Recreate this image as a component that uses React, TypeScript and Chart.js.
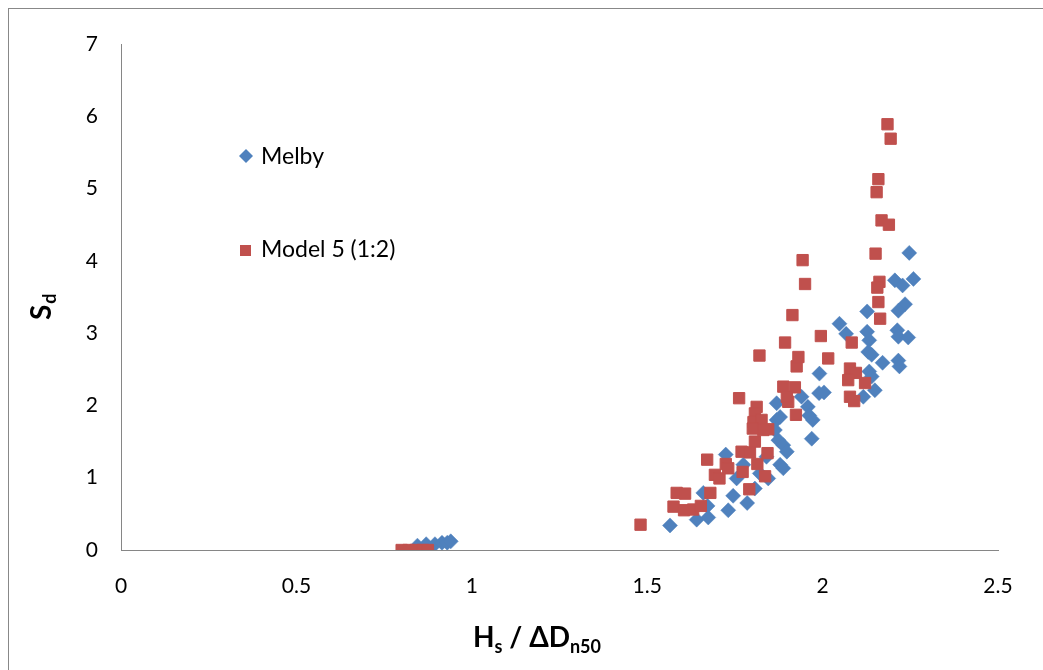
import React, { useEffect, useRef } from "react";
import { Chart, registerables } from "chart.js";

Chart.register(...registerables);

const melbyX = [
  0.845, 0.87, 0.895, 0.915, 0.93, 0.94,
  1.565, 1.641, 1.674, 1.66, 1.672, 1.731, 1.745, 1.785, 1.724, 1.755,
  1.774, 1.807, 1.821, 1.845, 1.84, 1.869, 1.879, 1.864, 1.874, 1.888,
  1.898, 1.879, 1.888, 1.869, 1.94, 1.958, 1.962, 1.972, 1.969, 1.991,
  1.99, 2.004, 2.048, 2.067, 2.127, 2.127, 2.133, 2.13, 2.14, 2.133,
  2.14, 2.149, 2.116, 2.171, 2.213, 2.216, 2.244, 2.216, 2.219, 2.235,
  2.216, 2.206, 2.228, 2.259, 2.247,
];
const melbyY = [
  0.06, 0.08, 0.08, 0.1, 0.1, 0.12,
  0.34, 0.42, 0.45, 0.79, 0.61, 0.55, 0.75, 0.65, 1.32, 0.99,
  1.18, 0.85, 1.06, 0.99, 1.29, 1.8, 1.84, 1.66, 1.52, 1.45,
  1.36, 1.18, 1.13, 2.03, 2.12, 1.98, 1.86, 1.8, 1.54, 2.44,
  2.17, 2.18, 3.13, 2.99, 3.3, 3.02, 2.9, 2.74, 2.7, 2.47,
  2.4, 2.21, 2.12, 2.59, 3.04, 2.95, 2.94, 2.62, 2.54, 3.4,
  3.31, 3.73, 3.66, 3.75, 4.11,
];

const modelX = [
  0.8, 0.82, 0.84, 0.86, 0.875,
  1.481, 1.584, 1.608, 1.575, 1.605, 1.631, 1.653, 1.68, 1.671, 1.693,
  1.706, 1.724, 1.731, 1.769, 1.793, 1.772, 1.814, 1.843, 1.836, 1.791,
  1.762, 1.812, 1.807, 1.803, 1.826, 1.801, 1.831, 1.845, 1.807, 1.888,
  1.921, 1.902, 1.898, 1.924, 1.926, 1.931, 1.82, 1.893, 1.914, 1.943,
  1.95, 1.995, 2.016, 2.083, 2.078, 2.095, 2.073, 2.121, 2.078, 2.09,
  2.151, 2.162, 2.156, 2.159, 2.164, 2.154, 2.159, 2.168, 2.189, 2.185,
  2.194,
];
const modelY = [
  0, 0, 0, 0, 0,
  0.35, 0.79, 0.78, 0.6, 0.55, 0.56, 0.61, 0.79, 1.25, 1.04,
  0.99, 1.19, 1.13, 1.36, 1.35, 1.08, 1.19, 1.34, 1.02, 0.84,
  2.1, 1.98, 1.89, 1.77, 1.8, 1.68, 1.66, 1.67, 1.5, 2.26,
  2.25, 2.05, 2.12, 1.87, 2.54, 2.67, 2.69, 2.87, 3.25, 4.01,
  3.68, 2.96, 2.65, 2.87, 2.51, 2.45, 2.35, 2.31, 2.12, 2.06,
  4.1, 3.71, 3.63, 3.43, 3.2, 4.95, 5.13, 4.56, 4.5, 5.89,
  5.69,
];

const seriesNames = ["Melby", "Model 5 (1:2)"];
const xTicks = [0, 0.5, 1, 1.5, 2, 2.5];
const yTicks = [0, 1, 2, 3, 4, 5, 6, 7];

const BLUE = "#4F81BD";
const RED = "#C0504D";
const FONT = "Lato, 'Open Sans', sans-serif";

const overlayPlugin = {
  id: "overlay",
  afterDraw(chart: any) {
    const ctx = chart.ctx;
    ctx.save();
    ctx.fillStyle = "#000";
    // Y title: S_d rotated
    ctx.save();
    ctx.translate(51, 320);
    ctx.rotate(-Math.PI / 2);
    ctx.textBaseline = "alphabetic";
    ctx.textAlign = "left";
    ctx.font = `bold 28px ${FONT}`;
    ctx.fillText("S", 0, 0);
    const sw = ctx.measureText("S").width;
    ctx.font = `bold 18px ${FONT}`;
    ctx.fillText("d", sw + 1, 5);
    ctx.restore();

    // X title: H_s / ΔD_n50
    const parts: [string, boolean][] = [
      ["H", false],
      ["s", true],
      [" / ΔD", false],
      ["n50", true],
    ];
    let total = 0;
    for (const [t, sub] of parts) {
      ctx.font = sub ? `bold 18px ${FONT}` : `bold 28px ${FONT}`;
      total += ctx.measureText(t).width;
    }
    let x = 537 - total / 2;
    const base = 647;
    ctx.textAlign = "left";
    for (const [t, sub] of parts) {
      ctx.font = sub ? `bold 18px ${FONT}` : `bold 28px ${FONT}`;
      ctx.fillText(t, x, sub ? base + 6 : base);
      x += ctx.measureText(t).width;
    }

    // Legend
    ctx.textBaseline = "middle";
    ctx.font = `23px ${FONT}`;
    ctx.fillStyle = BLUE;
    ctx.beginPath();
    ctx.moveTo(246, 149);
    ctx.lineTo(253, 156);
    ctx.lineTo(246, 163);
    ctx.lineTo(239, 156);
    ctx.closePath();
    ctx.fill();
    ctx.fillStyle = "#000";
    ctx.fillText(seriesNames[0], 261, 157);
    ctx.fillStyle = RED;
    ctx.fillRect(240, 245, 11, 11);
    ctx.fillStyle = "#000";
    ctx.fillText(seriesNames[1], 261, 250);
    ctx.restore();
  },
};

export default function App() {
  const ref = useRef<HTMLCanvasElement | null>(null);
  useEffect(() => {
    if (!ref.current) return;
    const melby = melbyX.map((x, i) => ({ x, y: melbyY[i] }));
    const model = modelX.map((x, i) => ({ x, y: modelY[i] }));
    const chart = new Chart(ref.current, {
      type: "scatter",
      data: {
        datasets: [
          {
            label: seriesNames[1],
            data: model,
            pointStyle: "rect",
            pointRadius: 8,
            backgroundColor: RED,
            borderColor: RED,
            borderWidth: 1,
            order: 0,
          },
          {
            label: seriesNames[0],
            data: melby,
            pointStyle: "rectRot",
            pointRadius: 7.5,
            backgroundColor: BLUE,
            borderColor: BLUE,
            borderWidth: 0.5,
            order: 1,
          },
        ],
      },
      options: {
        responsive: false,
        animation: false,
        layout: { padding: { top: 44, right: 45, left: 0, bottom: 0 } },
        plugins: {
          legend: { display: false },
          tooltip: { enabled: false },
        },
        scales: {
          x: {
            type: "linear",
            min: 0,
            max: 2.5,
            afterBuildTicks: (s: any) => {
              s.ticks = xTicks.map((v) => ({ value: v }));
            },
            afterFit: (s: any) => {
              s.height = 120;
            },
            grid: { display: true, color: "transparent", drawTicks: false },
            border: { display: true, color: "#868686", width: 1 },
            ticks: {
              padding: 24,
              color: "#000",
              font: { family: FONT, size: 21 },
              callback: (v: any) => String(v),
            },
          },
          y: {
            type: "linear",
            min: 0,
            max: 7,
            afterBuildTicks: (s: any) => {
              s.ticks = yTicks.map((v) => ({ value: v }));
            },
            afterFit: (s: any) => {
              s.width = 121;
            },
            grid: { display: true, color: "transparent", drawTicks: false },
            border: { display: true, color: "#868686", width: 1 },
            ticks: {
              padding: 23,
              color: "#000",
              font: { family: FONT, size: 21 },
              callback: (v: any) => String(v),
            },
          },
        },
      },
      plugins: [overlayPlugin],
    });
    return () => chart.destroy();
  }, []);

  return (
    <>
      <div
        style={{
          position: "fixed",
          left: 8,
          top: 8,
          width: 1100,
          height: 700,
          border: "1px solid #888",
          pointerEvents: "none",
        }}
      />
      <canvas
        ref={ref}
        width={1043}
        height={670}
        style={{ position: "fixed", left: 0, top: 0, width: 1043, height: 670 }}
      />
    </>
  );
}
